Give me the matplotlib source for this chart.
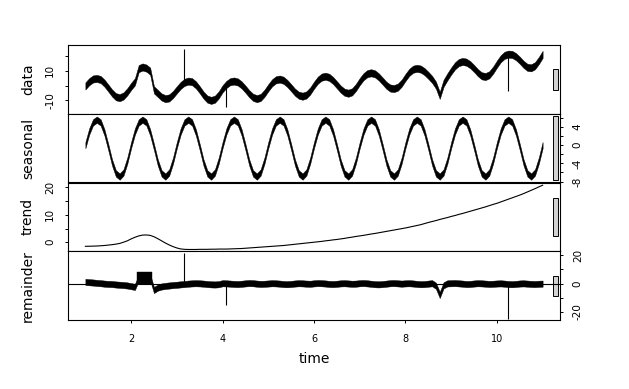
import numpy as np
import matplotlib.pyplot as plt
from matplotlib.patches import Rectangle

# monthly time grid, 1 .. 11
t = np.arange(121) / 12 + 1

# trend component (one row per year, 12 values each, last value at t=11)
trend = [
    -1.5, -1.47, -1.43, -1.38, -1.3, -1.2, -1.05, -0.9, -0.7, -0.45, 0.0, 0.5,
    1.2, 1.8, 2.3, 2.6, 2.65, 2.5, 2.0, 1.3, 0.5, -0.3, -1.0, -1.6,
    -2.1, -2.45, -2.6, -2.65, -2.65, -2.65, -2.6, -2.6, -2.6, -2.55, -2.55, -2.5,
    -2.5, -2.5, -2.45, -2.4, -2.35, -2.3, -2.2, -2.1, -2.0, -1.9, -1.8, -1.7,
    -1.6, -1.5, -1.4, -1.3, -1.2, -1.05, -0.9, -0.75, -0.6, -0.45, -0.3, -0.15,
    0.0, 0.15, 0.3, 0.5, 0.65, 0.85, 1.0, 1.2, 1.4, 1.65, 1.85, 2.1,
    2.3, 2.5, 2.75, 3.0, 3.2, 3.45, 3.7, 3.95, 4.2, 4.45, 4.7, 4.95,
    5.2, 5.5, 5.8, 6.1, 6.4, 6.8, 7.2, 7.55, 7.9, 8.3, 8.65, 9.0,
    9.4, 9.75, 10.15, 10.5, 10.9, 11.3, 11.7, 12.1, 12.5, 12.9, 13.35, 13.8,
    14.2, 14.7, 15.2, 15.7, 16.2, 16.7, 17.2, 17.75, 18.35, 18.95, 19.55, 20.2,
    20.8,
]

# one seasonal cycle (12 months), repeated every year
seasonal_profile = [0.0, 3.0, 5.0, 5.6, 5.0, 2.8, -0.4, -3.8, -6.2, -6.9, -6.0, -3.4]

# remainder centre line
remainder = [
    1.2, 1.0, 0.8, 0.5, 0.3, 0.0, -0.2, -0.3, -0.6, -0.8, -1.0, -1.3,
    -1.8, -2.3, 4.0, 4.2, 4.0, 4.3, -4.5, -2.8, -2.0, -1.6, -1.3, -1.0,
    -0.8, -0.5, -0.3, 0.0, 0.2, 0.3, 0.2, 0.0, -0.3, -0.5, -0.6, -0.4,
    0.3, 0.2, 0.0, -0.2, -0.3, -0.1, 0.2, 0.4, 0.3, 0.0, -0.2, -0.1,
    0.1, 0.3, 0.2, 0.0, -0.3, -0.4, -0.2, 0.1, 0.3, 0.2, 0.0, -0.1,
    0.2, 0.4, 0.3, 0.1, -0.2, -0.3, -0.1, 0.2, 0.3, 0.1, -0.1, 0.0,
    0.3, 0.4, 0.2, -0.1, -0.4, -0.5, -0.3, 0.0, 0.3, 0.4, 0.2, 0.0,
    0.2, 0.3, 0.1, -0.2, -0.4, -0.3, 0.0, 0.3, -1.5, -8.0, -1.2, 0.2,
    0.3, 0.4, 0.2, 0.0, -0.3, -0.2, 0.1, 0.3, 0.2, 0.0, -0.2, -0.1,
    0.1, 0.2, 0.0, -0.3, -0.4, -0.2, 0.1, 0.2, 0.0, -0.2, -0.3, -0.1,
    0.0,
]

# single-sample outliers
spike_t = [3.167, 4.083, 10.25]
spike_v = [22, -15, -25]

# the raised block in the remainder
block_t = [2.12, 2.46]
block_v = [0, 8]

# half width of the noisy band
data_noise = 2.4
seasonal_noise = 0.7
remainder_noise = 2.2

trend = np.array(trend)
remainder = np.array(remainder)
seasonal = np.append(np.tile(seasonal_profile, 10), seasonal_profile[0])
data = trend + seasonal + remainder
spike_idx = np.round((np.array(spike_t) - 1) * 12).astype(int)

W, H = 629, 389
fig = plt.figure(figsize=(W / 100, H / 100), dpi=100)

left, right = 68, 560
top, bottom = 45, 320
ph = (bottom - top) / 4

names = ["data", "seasonal", "trend", "remainder"]
ylims = [(-18.9, 27.1), (-8.2, 6.9), (-3.3, 21.8), (-25.7, 22.9)]
yticks = [[-10, 0, 10, 20], [-8, -6, -4, -2, 0, 2, 4, 6],
          [0, 5, 10, 15, 20], [-20, -10, 0, 10, 20]]
ylabels = [["-10", "", "10", ""], ["-8", "", "-4", "", "0", "", "4", ""],
           ["0", "", "10", "", "20"], ["-20", "", "0", "", "20"]]

# bar height = smallest data range among panels
bar_h = min((hi - lo) / 1.08 for lo, hi in ylims)

axes = []
for i in range(4):
    y0 = 1 - (top + (i + 1) * ph) / H
    ax = fig.add_axes([left / W, y0, (right - left) / W, ph / H])
    ax.set_xlim(0.62, 11.38)
    ax.set_ylim(*ylims[i])
    for s in ax.spines.values():
        s.set_linewidth(0.8)
    ax.set_yticks(yticks[i])
    ax.set_yticklabels(ylabels[i], fontsize=7.5, rotation=90, va="center")
    if i % 2 == 1:
        ax.yaxis.tick_right()
    ax.tick_params(axis="y", length=2.2, width=0.7, pad=7)
    if i == 3:
        ax.set_xticks([2, 4, 6, 8, 10])
        ax.tick_params(axis="x", labelsize=7, length=2.2, width=0.7, pad=8)
    else:
        ax.set_xticks([])
    fig.text(28 / W, 1 - (top + (i + 0.5) * ph) / H, names[i], rotation=90,
             ha="center", va="center", fontsize=10)

    # grey scale bar
    mid = sum(ylims[i]) / 2
    ax.add_patch(Rectangle((11.22, mid - bar_h / 2), 0.11, bar_h,
                           facecolor="#d3d3d3", edgecolor="black", lw=0.7))
    axes.append(ax)

# data
ax = axes[0]
ax.fill_between(t, data - data_noise, data + data_noise, color="black", lw=0.3)
ax.vlines(t[spike_idx], data[spike_idx], data[spike_idx] + spike_v, color="black", lw=0.8)

# seasonal
ax = axes[1]
ax.fill_between(t, seasonal - seasonal_noise, seasonal + seasonal_noise, color="black", lw=0.3)

# trend
axes[2].plot(t, trend, color="black", lw=0.8)

# remainder
ax = axes[3]
ax.axhline(0, color="black", lw=0.8)
ax.fill_between(t, remainder - remainder_noise, remainder + remainder_noise, color="black", lw=0.3)
ax.fill_between(block_t, block_v[0], block_v[1], color="black", lw=0.3)
ax.vlines(t[spike_idx], 0, spike_v, color="black", lw=0.8)

fig.text((left + right) / 2 / W, 1 - 359 / H, "time", ha="center", va="center", fontsize=10)

fig.savefig("out.png", dpi=100)
